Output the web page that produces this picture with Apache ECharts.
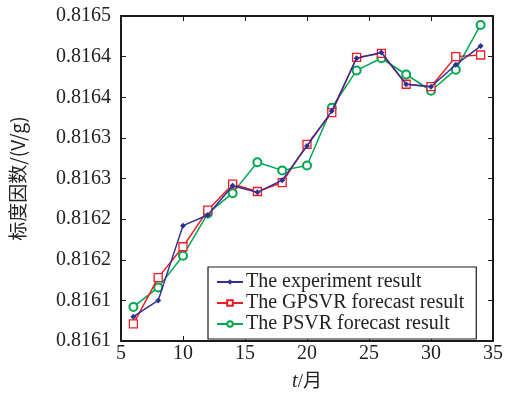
<!DOCTYPE html>
<html><head><meta charset="utf-8">
<script src="https://cdn.jsdelivr.net/npm/echarts@6/dist/echarts.min.js"></script>
<style>html,body{margin:0;padding:0;background:#fff}#c{width:506px;height:397px}</style>
</head><body><div id="c"></div>
<script>
const months = [6, 8, 10, 12, 14, 16, 18, 20, 22, 24, 26, 28, 30, 32, 34];
const experiment = [0.816080, 0.816100, 0.816192, 0.816205, 0.816241, 0.816233, 0.816248, 0.816290, 0.816333, 0.816398, 0.816405, 0.816366, 0.816363, 0.816390, 0.816413];
const gpsvr = [0.816071, 0.816128, 0.816166, 0.816211, 0.816243, 0.816234, 0.816245, 0.816292, 0.816331, 0.816399, 0.816404, 0.816366, 0.816363, 0.816400, 0.816402];
const psvr = [0.816092, 0.816116, 0.816155, 0.816207, 0.816232, 0.816270, 0.816260, 0.816266, 0.816337, 0.816383, 0.816398, 0.816378, 0.816358, 0.816384, 0.816439];
const yTickLabels = ['0.8161', '0.8161', '0.8162', '0.8162', '0.8163', '0.8163', '0.8164', '0.8164', '0.8165'];
const xTickLabels = ['5', '10', '15', '20', '25', '30', '35'];
const seriesNames = ['The experiment result', 'The GPSVR forecast result', 'The PSVR forecast result'];

const yMin = 0.81605, yMax = 0.81645, yStep = 0.00005;
const font = 'Liberation Serif';
const pairs = arr => months.map((m, i) => [m, arr[i]]);

const chart = echarts.init(document.getElementById('c'));
const axisLine = {show: true, lineStyle: {color: '#1a1a1a', width: 2}};
const axisTick = {show: true, inside: true, length: 5, lineStyle: {color: '#1a1a1a', width: 1}};
chart.setOption({
  animation: false,
  grid: {left: 121, right: 10, top: 16, bottom: 48},
  xAxis: [{
    type: 'value', min: 5, max: 35, interval: 5,
    axisLine, axisTick, splitLine: {show: false},
    axisLabel: {fontFamily: font, fontSize: 20, color: '#222', margin: 3,
      formatter: v => xTickLabels[Math.round((v - 5) / 5)]},
    name: '{i|t}{n|/月}', nameLocation: 'middle', nameGap: 31,
    nameTextStyle: {rich: {
      i: {fontFamily: font, fontStyle: 'italic', fontSize: 20, color: '#222'},
      n: {fontFamily: font + ', Noto Sans CJK SC', fontSize: 19, color: '#222'}
    }}
  }, {
    type: 'value', position: 'top', min: 5, max: 35, interval: 5,
    axisLine, axisTick, axisLabel: {show: false}, splitLine: {show: false}
  }],
  yAxis: [{
    type: 'value', min: yMin, max: yMax, interval: yStep,
    axisLine, axisTick, splitLine: {show: false},
    axisLabel: {fontFamily: font, fontSize: 20, color: '#222', margin: 10,
      formatter: v => yTickLabels[Math.round((v - yMin) / yStep)]},
    name: '标度因数/(V/g)', nameLocation: 'middle', nameGap: 94,
    nameTextStyle: {fontFamily: 'Noto Sans CJK SC', fontSize: 19, color: '#222'}
  }, {
    type: 'value', position: 'right', min: yMin, max: yMax, interval: yStep,
    axisLine, axisTick, axisLabel: {show: false}, splitLine: {show: false}
  }],
  legend: {
    orient: 'vertical', left: 208, top: 267,
    backgroundColor: '#fff',
    borderColor: '#1a1a1a', borderWidth: 1.2, borderRadius: 0,
    padding: [5, 12, 5, 8],
    itemGap: 1, itemWidth: 26, itemHeight: 7,
    textStyle: {fontFamily: font, fontSize: 20, color: '#222', padding: [0, 0, 0, -2]},
    data: seriesNames
  },
  series: [
    {name: seriesNames[0], type: 'line', data: pairs(experiment), symbol: 'diamond', symbolSize: 6,
     lineStyle: {color: '#2e3192', width: 1.5}, itemStyle: {color: '#2e3192'}, z: 4},
    {name: seriesNames[1], type: 'line', data: pairs(gpsvr), symbol: 'rect', symbolSize: 8,
     lineStyle: {color: '#ed1c24', width: 1.5}, itemStyle: {color: '#fff', borderColor: '#ed1c24', borderWidth: 1.3}, z: 3},
    {name: seriesNames[2], type: 'line', data: pairs(psvr), symbol: 'emptyCircle', symbolSize: 8,
     lineStyle: {color: '#00a651', width: 1.5}, itemStyle: {color: '#00a651', borderColor: '#00a651', borderWidth: 1.3}, z: 2}
  ]
});
</script></body></html>
